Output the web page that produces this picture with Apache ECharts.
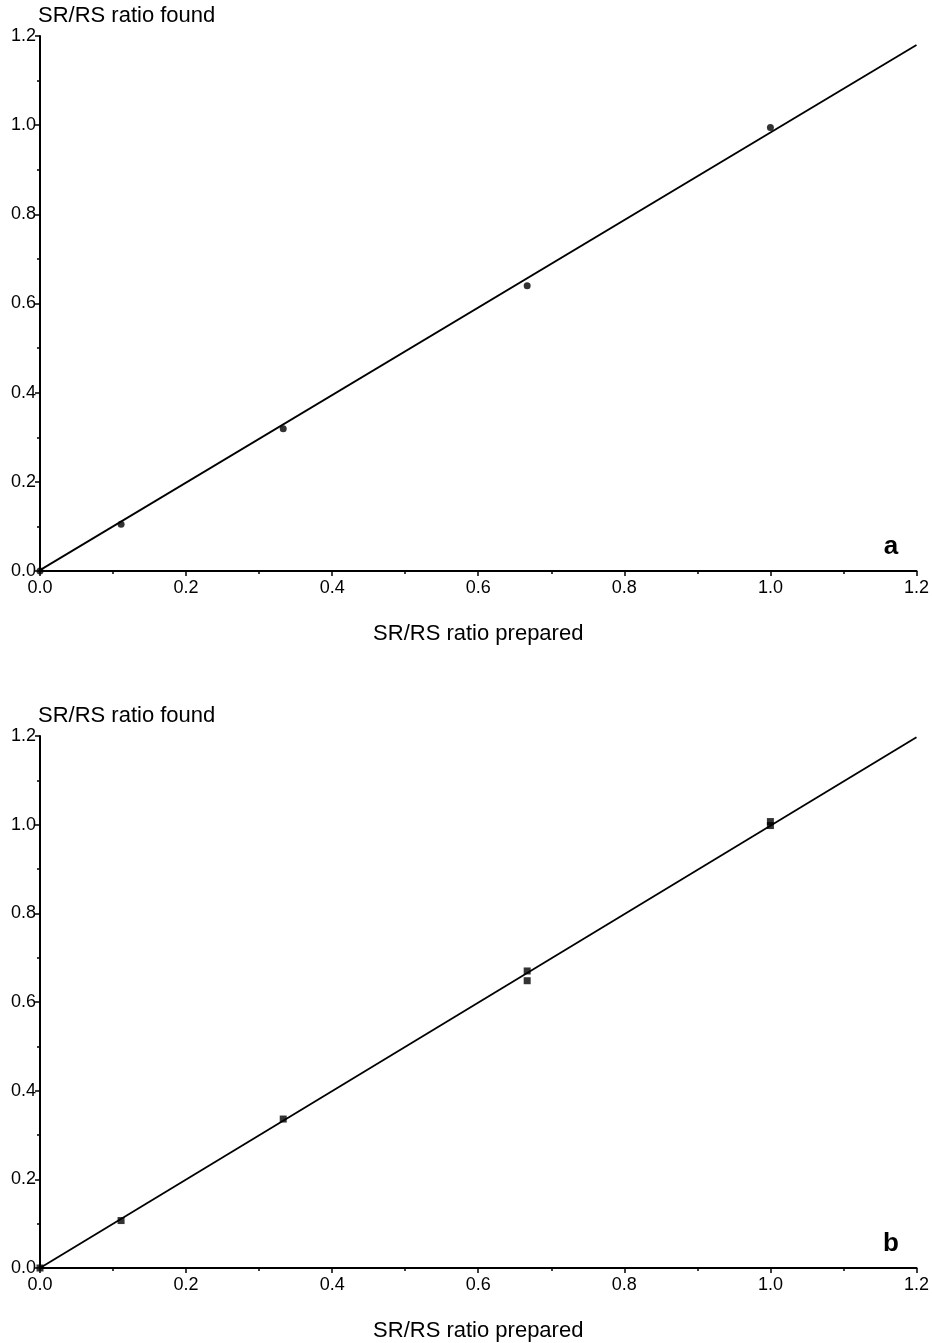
<!DOCTYPE html>
<html lang="en">
<head>
    <meta charset="UTF-8">
    <title>SR/RS ratio</title>
    <script src="https://cdn.jsdelivr.net/npm/echarts@6/dist/echarts.min.js"></script>
</head>
<body>
<div id="main"></div>
</body>

<style type="text/css" media="screen">
    html, body {
        width: 100%;
        height: 100%;
        overflow: hidden;
        margin: 0;
        background: #fff;
    }

    #main {
        width: 932px;
        height: 1343px;
    }
</style>
<script>
    // measured points, panel a and panel b: [prepared, found]
    var pointsA = [[0, 0], [0.111, 0.105], [0.333, 0.319], [0.667, 0.640], [1.0, 0.995]];
    var pointsB = [[0, 0], [0.111, 0.107], [0.333, 0.336], [0.667, 0.670], [0.667, 0.648], [1.0, 1.007], [1.0, 0.998]];
    // fitted regression lines (end points)
    var fitA = [[0, 0.002], [1.2, 1.18]];
    var fitB = [[0, 0], [1.2, 1.197]];
    var axisMin = 0, axisMax = 1.2, axisStep = 0.2;
    var panelLabels = ['a', 'b'];
    var labelAt = [1.165, 0.055];

    var myChart = echarts.init(document.getElementById('main'));
    var font = '"Liberation Sans", Arial, Helvetica, sans-serif';

    function xAxisFor(idx) {
        return {
            gridIndex: idx,
            type: 'value',
            min: axisMin, max: axisMax, interval: axisStep,
            name: 'SR/RS ratio prepared',
            nameLocation: 'middle',
            nameGap: 52,
            nameTextStyle: {fontSize: 22, color: '#000', fontFamily: font},
            axisLine: {lineStyle: {color: '#000', width: 2}},
            axisTick: {length: 5, lineStyle: {color: '#000', width: 1.5}},
            minorTick: {show: true, splitNumber: 2, length: 3, lineStyle: {color: '#000', width: 1.5}},
            splitLine: {show: false},
            axisLabel: {
                fontSize: 18, color: '#000', fontFamily: font, margin: 8,
                formatter: function (v) { return v.toFixed(1); }
            }
        };
    }

    function yAxisFor(idx) {
        return {
            gridIndex: idx,
            type: 'value',
            min: axisMin, max: axisMax, interval: axisStep,
            name: 'SR/RS ratio found',
            nameLocation: 'end',
            nameGap: 7,
            nameTextStyle: {fontSize: 22, color: '#000', fontFamily: font, align: 'left', padding: [0, 0, 0, -2]},
            axisLine: {lineStyle: {color: '#000', width: 2}},
            axisTick: {length: 5, lineStyle: {color: '#000', width: 1.5}},
            minorTick: {show: true, splitNumber: 2, length: 3, lineStyle: {color: '#000', width: 1.5}},
            splitLine: {show: false},
            axisLabel: {
                fontSize: 18, color: '#000', fontFamily: font, margin: 4,
                formatter: function (v) { return v.toFixed(1); }
            }
        };
    }

    function lineSeries(idx, data) {
        return {
            type: 'line', xAxisIndex: idx, yAxisIndex: idx,
            data: data, showSymbol: false, silent: true,
            lineStyle: {color: '#000', width: 1.8}
        };
    }

    function pointSeries(idx, data, symbol, label) {
        return {
            type: 'scatter', xAxisIndex: idx, yAxisIndex: idx,
            data: data, symbol: symbol, symbolSize: 7,
            itemStyle: {color: '#000'},
            markPoint: {
                silent: true,
                symbol: 'circle',
                symbolSize: 1,
                itemStyle: {color: 'rgba(0,0,0,0)'},
                data: [{coord: labelAt, value: label}],
                label: {
                    show: true, position: 'inside', formatter: label,
                    fontSize: 26, fontWeight: 'bold', color: '#000', fontFamily: font
                }
            }
        };
    }

    option = {
        backgroundColor: '#fff',
        animation: false,
        grid: [
            {left: 40, right: 15, top: 36, height: 535},
            {left: 40, right: 15, top: 736, height: 535}
        ],
        xAxis: [xAxisFor(0), xAxisFor(1)],
        yAxis: [yAxisFor(0), yAxisFor(1)],
        series: [
            lineSeries(0, fitA),
            pointSeries(0, pointsA, 'circle', panelLabels[0]),
            lineSeries(1, fitB),
            pointSeries(1, pointsB, 'rect', panelLabels[1])
        ]
    };
    myChart.setOption(option);
</script>
</html>
